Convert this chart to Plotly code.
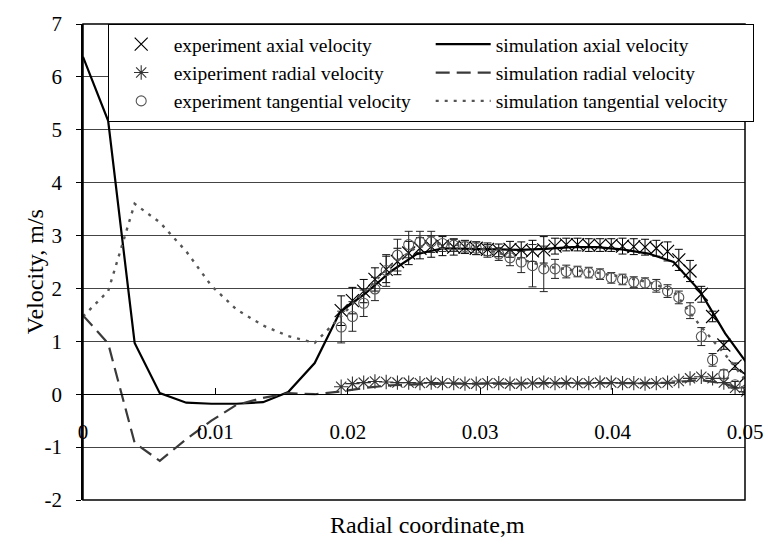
import plotly.graph_objects as go

# ---------------- data ----------------
sim_x = [0, 0.0019, 0.0039, 0.0058, 0.0078, 0.0097, 0.0116, 0.0136, 0.0155, 0.0175,
         0.0194, 0.0213, 0.0233, 0.0252, 0.0272, 0.0291, 0.0310, 0.0330, 0.0349, 0.0369,
         0.0388, 0.0407, 0.0427, 0.0446, 0.0466, 0.0485, 0.0504]
sim_axial = [6.38, 5.17, 0.97, 0.02, -0.16, -0.18, -0.18, -0.15, 0.04, 0.59,
             1.55, 1.9, 2.33, 2.65, 2.76, 2.75, 2.73, 2.73, 2.75, 2.78,
             2.78, 2.74, 2.66, 2.5, 1.95, 1.15, 0.5]
sim_radial = [1.49, 0.96, -0.92, -1.26, -0.85, -0.5, -0.2, -0.07, 0.02, 0.0,
              0.05, 0.12, 0.17, 0.19, 0.2, 0.2, 0.2, 0.2, 0.2, 0.2,
              0.2, 0.2, 0.21, 0.22, 0.27, 0.2, 0.02]
sim_tangential = [1.47, 1.95, 3.6, 3.25, 2.7, 2.05, 1.6, 1.3, 1.1, 0.97,
                  1.45, 1.95, 2.45, 2.78, 2.85, 2.8, 2.7, 2.55, 2.42, 2.35,
                  2.3, 2.22, 2.12, 1.95, 1.3, 0.75, 0.15]

exp_x = [0.0195, 0.02035, 0.0212, 0.02205, 0.0229, 0.02375, 0.0246, 0.02545, 0.0263,
         0.02715, 0.028, 0.02885, 0.0297, 0.03055, 0.0314, 0.03225, 0.0331, 0.03395,
         0.0348, 0.03565, 0.0365, 0.03735, 0.0382, 0.03905, 0.0399, 0.04075, 0.0416,
         0.04245, 0.0433, 0.04415, 0.045, 0.04585, 0.0467, 0.04755, 0.0484, 0.04925, 0.0501]
exp_axial = [1.58, 1.77, 1.95, 2.17, 2.36, 2.51, 2.67, 2.76, 2.79, 2.80, 2.78, 2.78,
             2.76, 2.74, 2.72, 2.74, 2.73, 2.71, 2.73, 2.80, 2.83, 2.83, 2.82, 2.82,
             2.82, 2.80, 2.79, 2.78, 2.76, 2.70, 2.54, 2.33, 1.89, 1.47, 0.93, 0.53, 0.35]
exp_axial_err = [0.28, 0.25, 0.22, 0.22, 0.25, 0.25, 0.22, 0.2, 0.2, 0.18, 0.15, 0.12,
                 0.12, 0.12, 0.12, 0.15, 0.15, 0.2, 0.25, 0.15, 0.12, 0.12, 0.12, 0.12,
                 0.12, 0.15, 0.15, 0.15, 0.15, 0.18, 0.2, 0.2, 0.15, 0.1, 0.08, 0.06, 0.05]
exp_radial = [0.14, 0.2, 0.22, 0.24, 0.23, 0.22, 0.22, 0.21, 0.22, 0.21, 0.21, 0.2,
              0.2, 0.21, 0.21, 0.2, 0.2, 0.21, 0.22, 0.21, 0.22, 0.21, 0.21, 0.22,
              0.22, 0.21, 0.21, 0.2, 0.21, 0.22, 0.25, 0.3, 0.33, 0.3, 0.22, 0.12, 0.05]
exp_tangential = [1.27, 1.47, 1.72, 1.99, 2.34, 2.63, 2.83, 2.88, 2.88, 2.85, 2.82, 2.79,
                  2.76, 2.71, 2.65, 2.58, 2.50, 2.43, 2.37, 2.37, 2.32, 2.32, 2.30, 2.27,
                  2.20, 2.17, 2.12, 2.10, 2.05, 1.95, 1.83, 1.58, 1.09, 0.65, 0.38, 0.18, 0.08]
exp_tangential_err = [0.3, 0.28, 0.25, 0.22, 0.3, 0.3, 0.25, 0.2, 0.2, 0.15, 0.12, 0.12,
                      0.12, 0.12, 0.12, 0.15, 0.2, 0.4, 0.43, 0.18, 0.12, 0.1, 0.1, 0.1,
                      0.1, 0.1, 0.1, 0.1, 0.12, 0.12, 0.12, 0.15, 0.17, 0.12, 0.08, 0.06, 0.05]

x_ticks = [0, 0.01, 0.02, 0.03, 0.04, 0.05]
x_tick_text = ["0", "0.01", "0.02", "0.03", "0.04", "0.05"]
y_ticks = [-2, -1, 0, 1, 2, 3, 4, 5, 6, 7]
y_tick_text = ["-2", "-1", "0", "1", "2", "3", "4", "5", "6", "7"]

FONT = "Liberation Serif, 'Times New Roman', Times, 'DejaVu Serif', serif"

fig = go.Figure()

fig.add_trace(go.Scatter(
    x=exp_x, y=exp_axial, mode="markers", name="experiment axial velocity",
    marker=dict(symbol="x-thin", size=13, color="black", line=dict(color="black", width=1.2)),
    error_y=dict(type="data", array=exp_axial_err, color="black", thickness=1, width=4),
))
fig.add_trace(go.Scatter(
    x=sim_x, y=sim_axial, mode="lines", name="simulation axial velocity",
    line=dict(color="black", width=2.2),
))
fig.add_trace(go.Scatter(
    x=exp_x, y=exp_radial, mode="markers", name="exiperiment radial velocity",
    marker=dict(symbol="asterisk-open", size=12, color="#333333",
                line=dict(color="#333333", width=1.1)),
))
fig.add_trace(go.Scatter(
    x=sim_x, y=sim_radial, mode="lines", name="simulation radial velocity",
    line=dict(color="#3a3a3a", width=2.2, dash="14px,7px"),
))
fig.add_trace(go.Scatter(
    x=exp_x, y=exp_tangential, mode="markers", name="experiment tangential velocity",
    marker=dict(symbol="circle-open", size=10, color="#555555",
                line=dict(color="#555555", width=1.1)),
    error_y=dict(type="data", array=exp_tangential_err, color="#222222", thickness=1, width=4),
))
fig.add_trace(go.Scatter(
    x=sim_x, y=sim_tangential, mode="lines", name="simulation tangential velocity",
    line=dict(color="#555555", width=2.4, dash="3px,6px"),
))

fig.update_layout(
    width=775, height=542,
    margin=dict(l=83, r=21, t=15, b=42),
    paper_bgcolor="white", plot_bgcolor="white",
    font=dict(family=FONT, size=21, color="black"),
    showlegend=True,
    legend=dict(
        orientation="h", x=0.0373, xanchor="left", y=1, yanchor="top",
        bgcolor="white", bordercolor="black", borderwidth=1,
        font=dict(family=FONT, size=19.5, color="black"),
        entrywidth=252, itemwidth=55, traceorder="normal",
    ),
    xaxis=dict(
        range=[0, 0.05], tickvals=x_ticks, ticktext=x_tick_text,
        anchor="free", position=2 / 9,
        showline=True, linecolor="black", linewidth=1,
        ticks="inside", ticklen=6, tickcolor="black",
        showgrid=False, zeroline=False, ticklabelstandoff=19,
        tickfont=dict(family=FONT, size=21),
    ),
    yaxis=dict(
        range=[-2, 7], tickvals=y_ticks, ticktext=y_tick_text,
        showline=True, linecolor="black", linewidth=1.5,
        ticks="outside", ticklen=5, tickcolor="black",
        showgrid=True, gridcolor="#444444", gridwidth=1,
        zeroline=False, ticklabelstandoff=10,
        tickfont=dict(family=FONT, size=21),
    ),
    shapes=[dict(type="rect", xref="paper", yref="paper", x0=0, x1=1, y0=0, y1=1,
                 line=dict(color="black", width=1.5), layer="above")],
    annotations=[
        dict(text="Radial coordinate,m", xref="paper", yref="paper", x=0.52, y=-0.052,
             xanchor="center", yanchor="middle", showarrow=False,
             font=dict(family=FONT, size=24)),
        dict(text="Velocity, m/s", xref="paper", yref="paper", x=-0.073, y=0.48,
             xanchor="center", yanchor="middle", showarrow=False, textangle=-90,
             font=dict(family=FONT, size=24)),
    ],
)

fig.write_html("out.html")
